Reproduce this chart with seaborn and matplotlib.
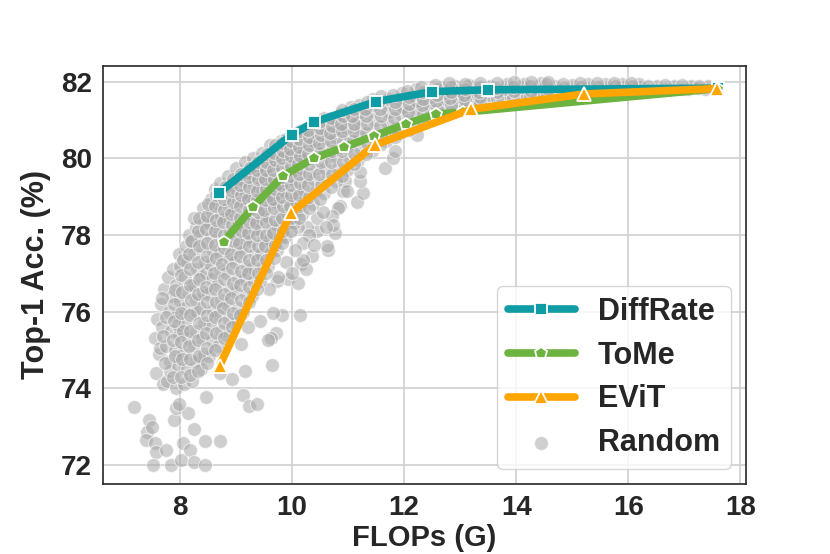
import matplotlib
matplotlib.use("Agg")
import matplotlib.pyplot as plt
import seaborn as sns
import pandas as pd

# ---- data ----
diffrate_flops = [8.7, 10.0, 10.4, 11.5, 12.5, 13.5, 17.6]
diffrate_acc = [79.1, 80.62, 80.95, 81.48, 81.74, 81.79, 81.83]

tome_flops = [8.78, 9.3, 9.84, 10.39, 10.93, 11.46, 12.04, 12.57, 13.05, 17.6]
tome_acc = [77.82, 78.72, 79.54, 80.0, 80.29, 80.58, 80.9, 81.16, 81.2, 81.82]

evit_flops = [8.71, 9.98, 11.48, 13.2, 15.21, 17.59]
evit_acc = [74.58, 78.57, 80.35, 81.28, 81.68, 81.82]

# random configs (gray cloud), hand-read: sparse tails
random_sparse = [
    (7.18, 73.5), (7.45, 73.17), (7.41, 72.86), (7.39, 72.65), (7.55, 72.57),
    (7.57, 72.34), (7.53, 72.0), (7.75, 72.39), (7.85, 72.0), (7.89, 73.17),
    (7.94, 73.48), (8.05, 72.57), (8.02, 72.13), (8.18, 72.39), (8.25, 72.08),
    (8.45, 72.0), (8.25, 72.93), (8.15, 73.35), (8.45, 72.63), (8.71, 72.63),
    (8.46, 73.77), (9.13, 73.82), (9.23, 73.54), (9.37, 73.6), (7.98, 73.6),
    (8.36, 74.77), (8.93, 74.25), (8.71, 74.4), (9.16, 74.45), (7.5, 73.0),
    (9.65, 74.6), (9.72, 75.45), (9.62, 75.3), (9.83, 75.9), (10.14, 75.9),
    (9.67, 75.95), (9.58, 75.25), (9.43, 75.75), (9.22, 75.6), (9.1, 75.15),
    (9.93, 76.85), (10.11, 76.75), (10.17, 77.25), (10.26, 77.1), (10.35, 77.45),
    (10.65, 77.6), (9.73, 76.8), (10.2, 77.35), (10.77, 78.05), (10.86, 78.75),
    (10.44, 78.1), (10.27, 78.2), (10.92, 79.15), (11.16, 78.85), (11.27, 79.1),
    (11.21, 79.4), (11.21, 79.65), (11.66, 79.75), (11.81, 80.0), (11.84, 80.2),
    (10.83, 78.7), (10.71, 78.5), (10.74, 78.25), (10.62, 77.7), (10.95, 79.4),
    (10.98, 79.15), (12.23, 80.6),
    (10.1, 78.2), (10.3, 78.0), (10.45, 78.45), (10.55, 78.6), (10.2, 77.8),
    (10.6, 78.2), (10.4, 77.75), (9.75, 76.9), (9.9, 77.3), (10.05, 77.6),
    (9.6, 76.6), (10.0, 77.0),
]

# dense band, first pass
random_band_a = [
    (7.58, 74.4), (7.62, 74.9), (7.55, 75.3), (7.6, 75.8), (7.66, 76.2),
    (7.7, 74.1), (7.68, 75.6), (7.72, 76.6), (7.64, 75.05),
    (7.78, 74.2), (7.82, 74.7), (7.76, 75.1), (7.84, 75.5), (7.8, 76.0),
    (7.86, 76.4), (7.79, 76.9), (7.88, 77.1), (7.83, 74.45),
    (7.93, 74.0), (7.97, 74.6), (7.92, 75.0), (7.99, 75.4), (7.95, 75.9),
    (8.0, 76.3), (7.94, 76.7), (8.01, 77.2), (7.98, 77.5), (7.96, 75.65),
    (8.08, 74.1), (8.12, 74.5), (8.06, 74.9), (8.14, 75.3), (8.1, 75.7),
    (8.07, 76.1), (8.15, 76.5), (8.09, 76.9), (8.13, 77.3), (8.11, 77.7),
    (8.16, 78.0), (8.05, 75.5),
    (8.22, 74.2), (8.27, 74.7), (8.24, 75.1), (8.29, 75.5), (8.21, 75.95),
    (8.28, 76.3), (8.23, 76.7), (8.3, 77.1), (8.26, 77.5), (8.22, 77.85),
    (8.29, 78.2), (8.25, 78.45), (8.3, 76.0),
    (8.37, 74.5), (8.43, 74.9), (8.39, 75.3), (8.44, 75.7), (8.36, 76.1),
    (8.42, 76.5), (8.38, 76.9), (8.45, 77.3), (8.4, 77.7), (8.36, 78.0),
    (8.44, 78.35), (8.41, 78.7), (8.47, 77.0),
    (8.52, 74.85), (8.58, 75.25), (8.54, 75.65), (8.6, 76.05), (8.5, 76.45),
    (8.57, 76.85), (8.53, 77.25), (8.59, 77.6), (8.55, 77.95), (8.51, 78.3),
    (8.58, 78.6), (8.56, 78.95), (8.62, 79.2),
    (8.68, 75.1), (8.73, 75.5), (8.69, 75.9), (8.74, 76.3), (8.66, 76.7),
    (8.72, 77.1), (8.7, 77.5), (8.75, 77.85), (8.67, 78.2), (8.73, 78.5),
    (8.69, 78.8), (8.76, 79.1), (8.71, 79.35),
    (8.83, 75.4), (8.88, 75.8), (8.84, 76.2), (8.89, 76.6), (8.82, 77.0),
    (8.87, 77.4), (8.85, 77.75), (8.9, 78.1), (8.81, 78.45), (8.88, 78.75),
    (8.84, 79.05), (8.91, 79.3), (8.86, 79.55),
    (8.98, 75.7), (9.03, 76.1), (8.99, 76.5), (9.04, 76.9), (8.96, 77.3),
    (9.02, 77.65), (9.0, 78.0), (9.05, 78.3), (8.97, 78.6), (9.03, 78.9),
    (9.0, 79.2), (9.06, 79.45), (9.01, 79.75),
    (9.13, 76.0), (9.18, 76.45), (9.14, 76.85), (9.19, 77.2), (9.11, 77.55),
    (9.17, 77.9), (9.15, 78.2), (9.2, 78.55), (9.12, 78.85), (9.18, 79.1),
    (9.14, 79.4), (9.21, 79.65), (9.16, 79.9),
    (9.28, 76.4), (9.33, 76.8), (9.29, 77.15), (9.34, 77.5), (9.26, 77.85),
    (9.32, 78.15), (9.3, 78.45), (9.35, 78.75), (9.27, 79.0), (9.33, 79.3),
    (9.29, 79.55), (9.36, 79.8), (9.31, 80.0),
    (9.43, 76.8), (9.48, 77.2), (9.44, 77.5), (9.49, 77.85), (9.41, 78.15),
    (9.47, 78.45), (9.45, 78.75), (9.5, 79.0), (9.42, 79.25), (9.48, 79.5),
    (9.44, 79.75), (9.51, 79.95), (9.46, 80.15),
    (9.58, 77.2), (9.63, 77.55), (9.59, 77.9), (9.64, 78.2), (9.56, 78.5),
    (9.62, 78.8), (9.6, 79.05), (9.65, 79.3), (9.57, 79.55), (9.63, 79.8),
    (9.59, 80.0), (9.66, 80.2), (9.61, 80.35),
    (9.73, 77.6), (9.78, 77.95), (9.74, 78.25), (9.79, 78.55), (9.71, 78.85),
    (9.77, 79.1), (9.75, 79.35), (9.8, 79.6), (9.72, 79.85), (9.78, 80.05),
    (9.74, 80.25), (9.81, 80.45),
    (9.88, 77.95), (9.93, 78.3), (9.89, 78.6), (9.94, 78.9), (9.86, 79.15),
    (9.92, 79.4), (9.9, 79.65), (9.95, 79.9), (9.87, 80.1), (9.93, 80.3),
    (9.89, 80.5),
    (10.03, 78.3), (10.08, 78.6), (10.04, 78.9), (10.09, 79.2), (10.01, 79.45),
    (10.07, 79.7), (10.05, 79.95), (10.1, 80.15), (10.02, 80.35), (10.08, 80.55),
    (10.18, 78.55), (10.23, 78.9), (10.19, 79.2), (10.24, 79.5), (10.16, 79.75),
    (10.22, 80.0), (10.2, 80.2), (10.25, 80.4), (10.17, 80.6), (10.23, 80.75),
    (10.38, 78.8), (10.43, 79.15), (10.39, 79.45), (10.44, 79.75), (10.36, 80.0),
    (10.42, 80.25), (10.4, 80.45), (10.45, 80.65), (10.37, 80.85),
    (10.58, 79.1), (10.63, 79.45), (10.59, 79.75), (10.64, 80.05), (10.56, 80.3),
    (10.62, 80.5), (10.6, 80.7), (10.65, 80.9), (10.57, 81.05),
    (10.78, 79.4), (10.83, 79.75), (10.79, 80.05), (10.84, 80.3), (10.76, 80.55),
    (10.82, 80.75), (10.8, 80.95), (10.85, 81.15),
    (10.98, 79.7), (11.03, 80.0), (10.99, 80.3), (11.04, 80.55), (10.96, 80.8),
    (11.02, 81.0), (11.0, 81.2), (11.05, 81.35),
    (11.18, 79.95), (11.23, 80.25), (11.19, 80.55), (11.24, 80.8), (11.16, 81.0),
    (11.22, 81.2), (11.2, 81.4),
    (11.43, 80.2), (11.48, 80.5), (11.44, 80.75), (11.49, 81.0), (11.41, 81.2),
    (11.47, 81.4), (11.45, 81.55),
    (11.68, 80.45), (11.73, 80.7), (11.69, 80.95), (11.74, 81.2), (11.66, 81.4),
    (11.72, 81.55),
    (11.93, 80.65), (11.98, 80.9), (11.94, 81.15), (11.99, 81.35), (11.91, 81.55),
    (11.97, 81.7),
    (12.18, 80.85), (12.23, 81.1), (12.19, 81.3), (12.24, 81.5), (12.16, 81.65),
    (12.22, 81.8),
    (12.43, 81.0), (12.48, 81.25), (12.44, 81.45), (12.49, 81.6), (12.41, 81.75),
    (12.68, 81.15), (12.73, 81.35), (12.69, 81.55), (12.74, 81.7), (12.66, 81.85),
    (12.93, 81.25), (12.98, 81.45), (12.94, 81.6), (12.99, 81.75), (12.91, 81.88),
    (13.18, 81.4), (13.23, 81.55), (13.19, 81.7), (13.24, 81.85), (13.16, 81.92),
    (13.47, 81.5), (13.52, 81.65), (13.49, 81.78), (13.54, 81.9),
    (13.77, 81.55), (13.82, 81.7), (13.79, 81.82), (13.84, 81.93),
    (14.07, 81.6), (14.12, 81.72), (14.09, 81.85), (14.14, 81.95),
    (14.37, 81.62), (14.42, 81.76), (14.39, 81.88), (14.44, 81.96),
    (14.67, 81.66), (14.72, 81.78), (14.69, 81.9),
    (14.97, 81.68), (15.02, 81.8), (14.99, 81.92),
    (15.27, 81.72), (15.32, 81.83), (15.29, 81.93),
    (15.57, 81.74), (15.62, 81.84), (15.59, 81.94),
    (15.87, 81.76), (15.92, 81.86), (15.89, 81.93),
    (16.17, 81.77), (16.22, 81.87), (16.19, 81.93),
    (16.47, 81.78), (16.52, 81.88),
    (16.77, 81.8), (16.82, 81.9),
    (17.07, 81.8), (17.12, 81.88),
    (17.37, 81.82), (17.42, 81.88),
]

# dense band, second pass (in between the first)
random_band_b = [
    (7.73, 74.65), (7.7, 75.35), (7.75, 75.85), (7.69, 76.35),
    (7.88, 74.3), (7.91, 74.85), (7.87, 75.25), (7.9, 75.75), (7.89, 76.2), (7.92, 76.55),
    (8.03, 74.3), (8.04, 74.75), (8.02, 75.2), (8.03, 75.95), (8.04, 76.5),
    (8.03, 76.95), (8.05, 77.35),
    (8.18, 74.35), (8.19, 74.75), (8.17, 75.1), (8.19, 75.5), (8.18, 75.9),
    (8.2, 76.3), (8.18, 76.7), (8.19, 77.1), (8.17, 77.5), (8.2, 77.85),
    (8.33, 74.45), (8.34, 74.85), (8.32, 75.25), (8.34, 75.7), (8.33, 76.45),
    (8.35, 76.85), (8.32, 77.3), (8.34, 77.7), (8.33, 78.1), (8.35, 78.45),
    (8.48, 74.65), (8.49, 75.05), (8.47, 75.45), (8.49, 75.9), (8.48, 76.25),
    (8.46, 76.65), (8.48, 77.45), (8.49, 77.8), (8.47, 78.15), (8.48, 78.5), (8.5, 78.8),
    (8.63, 75.0), (8.64, 75.45), (8.62, 75.85), (8.64, 76.25), (8.63, 76.6),
    (8.61, 77.0), (8.64, 77.4), (8.63, 77.75), (8.62, 78.1), (8.64, 78.4),
    (8.63, 78.75), (8.65, 79.05),
    (8.78, 75.3), (8.79, 75.7), (8.77, 76.1), (8.79, 76.45), (8.78, 76.85),
    (8.76, 77.25), (8.79, 77.65), (8.78, 78.0), (8.77, 78.35), (8.79, 78.65),
    (8.78, 78.95), (8.8, 79.25),
    (8.93, 75.6), (8.94, 75.95), (8.92, 76.35), (8.94, 76.75), (8.93, 77.15),
    (8.91, 77.5), (8.94, 77.85), (8.93, 78.25), (8.92, 78.55), (8.94, 78.85),
    (8.93, 79.15), (8.95, 79.45),
    (9.08, 75.9), (9.09, 76.3), (9.07, 76.7), (9.09, 77.05), (9.08, 77.45),
    (9.06, 77.8), (9.09, 78.1), (9.08, 78.45), (9.07, 78.75), (9.09, 79.05),
    (9.08, 79.3), (9.1, 79.6),
    (9.23, 76.25), (9.24, 76.65), (9.22, 77.0), (9.24, 77.35), (9.23, 77.7),
    (9.21, 78.05), (9.24, 78.35), (9.23, 78.65), (9.22, 78.95), (9.24, 79.25),
    (9.23, 79.5), (9.25, 79.75),
    (9.38, 76.6), (9.39, 77.0), (9.37, 77.35), (9.39, 77.7), (9.38, 78.0),
    (9.36, 78.3), (9.39, 78.6), (9.38, 78.9), (9.37, 79.15), (9.39, 79.45),
    (9.38, 79.7), (9.4, 79.9),
    (9.53, 77.0), (9.54, 77.35), (9.52, 77.7), (9.54, 78.0), (9.53, 78.35),
    (9.51, 78.65), (9.54, 78.9), (9.53, 79.2), (9.52, 79.45), (9.54, 79.7),
    (9.53, 79.9), (9.55, 80.1),
    (9.68, 77.4), (9.69, 77.75), (9.67, 78.05), (9.69, 78.4), (9.68, 78.7),
    (9.66, 78.95), (9.69, 79.2), (9.68, 79.45), (9.67, 79.7), (9.69, 79.95),
    (9.68, 80.15), (9.7, 80.35),
    (9.83, 77.8), (9.84, 78.1), (9.82, 78.45), (9.84, 78.75), (9.83, 79.0),
    (9.81, 79.3), (9.84, 79.5), (9.83, 79.75), (9.82, 80.0), (9.84, 80.2), (9.83, 80.4),
    (9.98, 78.1), (9.99, 78.45), (9.97, 78.75), (9.99, 79.05), (9.98, 79.3),
    (9.96, 79.55), (9.99, 79.8), (9.98, 80.05), (9.97, 80.25), (9.99, 80.45),
    (10.13, 78.45), (10.14, 78.75), (10.12, 79.05), (10.14, 79.35), (10.13, 79.6),
    (10.11, 79.85), (10.14, 80.05), (10.13, 80.3), (10.12, 80.5), (10.14, 80.7),
    (10.3, 78.7), (10.31, 79.0), (10.29, 79.3), (10.31, 79.6), (10.3, 79.85),
    (10.28, 80.1), (10.31, 80.35), (10.3, 80.55), (10.29, 80.75),
    (10.5, 78.95), (10.51, 79.3), (10.49, 79.6), (10.51, 79.9), (10.5, 80.15),
    (10.48, 80.4), (10.51, 80.6), (10.5, 80.8), (10.49, 80.95),
    (10.7, 79.25), (10.71, 79.6), (10.69, 79.9), (10.71, 80.2), (10.7, 80.45),
    (10.68, 80.65), (10.71, 80.85), (10.7, 81.05),
    (10.9, 79.55), (10.91, 79.9), (10.89, 80.2), (10.91, 80.45), (10.9, 80.7),
    (10.88, 80.9), (10.91, 81.1), (10.9, 81.25),
    (11.1, 79.85), (11.11, 80.15), (11.09, 80.45), (11.11, 80.7), (11.1, 80.9),
    (11.08, 81.1), (11.11, 81.3),
    (11.33, 80.1), (11.34, 80.4), (11.32, 80.65), (11.34, 80.9), (11.33, 81.1),
    (11.31, 81.3), (11.34, 81.48),
    (11.58, 80.35), (11.59, 80.6), (11.57, 80.85), (11.59, 81.1), (11.58, 81.3),
    (11.56, 81.5), (11.59, 81.62),
    (11.83, 80.55), (11.84, 80.8), (11.82, 81.05), (11.84, 81.28), (11.83, 81.48),
    (11.81, 81.65),
    (12.08, 80.75), (12.09, 81.0), (12.07, 81.22), (12.09, 81.42), (12.08, 81.6),
    (12.06, 81.75),
    (12.33, 80.95), (12.34, 81.18), (12.32, 81.38), (12.34, 81.56), (12.33, 81.72),
    (12.31, 81.85),
    (12.58, 81.08), (12.59, 81.3), (12.57, 81.5), (12.59, 81.66), (12.58, 81.8),
    (12.56, 81.92),
    (12.83, 81.2), (12.84, 81.4), (12.82, 81.58), (12.84, 81.72), (12.83, 81.86),
    (12.81, 81.96),
    (13.08, 81.35), (13.09, 81.52), (13.07, 81.66), (13.09, 81.8), (13.08, 81.93),
    (13.35, 81.45), (13.36, 81.6), (13.34, 81.74), (13.36, 81.87), (13.35, 81.97),
    (13.65, 81.58), (13.66, 81.72), (13.64, 81.84), (13.66, 81.96),
    (13.95, 81.6), (13.96, 81.75), (13.94, 81.87), (13.96, 81.98),
    (14.25, 81.62), (14.26, 81.76), (14.24, 81.89), (14.26, 81.99),
    (14.55, 81.66), (14.56, 81.8), (14.54, 81.93), (14.56, 82.0),
    (14.85, 81.7), (14.86, 81.83), (14.84, 81.95),
    (15.15, 81.72), (15.16, 81.85), (15.14, 81.97),
    (15.45, 81.75), (15.46, 81.87), (15.44, 81.97),
    (15.75, 81.76), (15.76, 81.88), (15.74, 81.97),
    (16.05, 81.78), (16.06, 81.89), (16.04, 81.96),
    (16.35, 81.79), (16.36, 81.9), (16.65, 81.8), (16.66, 81.92),
    (16.95, 81.82), (16.96, 81.92), (17.25, 81.83), (17.26, 81.9),
]

x_ticks = [8, 10, 12, 14, 16, 18]
y_ticks = [72, 74, 76, 78, 80, 82]

# ---- style ----
sns.set_theme(style="whitegrid")
plt.rcParams["font.family"] = ["Liberation Sans", "DejaVu Sans"]
plt.rcParams["font.weight"] = "bold"
plt.rcParams["axes.labelweight"] = "bold"

fig = plt.figure(figsize=(8.3, 5.54), dpi=100)
ax = fig.add_axes([0.1241, 0.1264, 0.7747, 0.7545])

rand_df = pd.DataFrame(random_sparse + random_band_a + random_band_b,
                       columns=["flops", "acc"])
sns.scatterplot(data=rand_df, x="flops", y="acc", s=100, color="#a8a8a8",
                alpha=0.55, edgecolor="white", linewidth=0.8,
                label="Random", zorder=1, ax=ax)

line_kw = dict(linewidth=5.5, markeredgecolor="white", markeredgewidth=1.3,
               sort=False, solid_capstyle="round", ax=ax)
sns.lineplot(x=diffrate_flops, y=diffrate_acc, color="#0e9ca5", marker="s",
             markersize=9, label="DiffRate", zorder=3, **line_kw)
sns.lineplot(x=tome_flops, y=tome_acc, color="#6cb33f", marker="p",
             markersize=9, label="ToMe", zorder=3, **line_kw)
sns.lineplot(x=evit_flops, y=evit_acc, color="#ffa500", marker="^",
             markersize=10, label="EViT", zorder=3, **line_kw)

ax.set_xlim(6.63, 18.1)
ax.set_ylim(71.5, 82.41)
ax.set_xticks(x_ticks)
ax.set_yticks(y_ticks)
ax.tick_params(labelsize=20, length=5, width=1.2, color="0.15", pad=3)
for lab in ax.get_xticklabels() + ax.get_yticklabels():
    lab.set_fontweight("bold")
ax.grid(color="#d0d0d0", linewidth=1.2)
for sp in ax.spines.values():
    sp.set_color("0.15")
    sp.set_linewidth(1.2)

ax.set_xlabel("FLOPs (G)", fontsize=21, fontweight="bold", labelpad=2)
ax.set_ylabel("Top-1 Acc. (%)", fontsize=22, fontweight="bold", labelpad=7)

handles, labels = ax.get_legend_handles_labels()
order = [labels.index(n) for n in ["DiffRate", "ToMe", "EViT", "Random"]]
leg = ax.legend([handles[i] for i in order], [labels[i] for i in order],
                loc="lower right", fontsize=22, handlelength=2.2,
                handletextpad=0.75, frameon=True, fancybox=True,
                framealpha=0.8, edgecolor="#cccccc", borderpad=0.35,
                labelspacing=0.45)
for t in leg.get_texts():
    t.set_fontweight("bold")

plt.savefig("out.png", dpi=100)
